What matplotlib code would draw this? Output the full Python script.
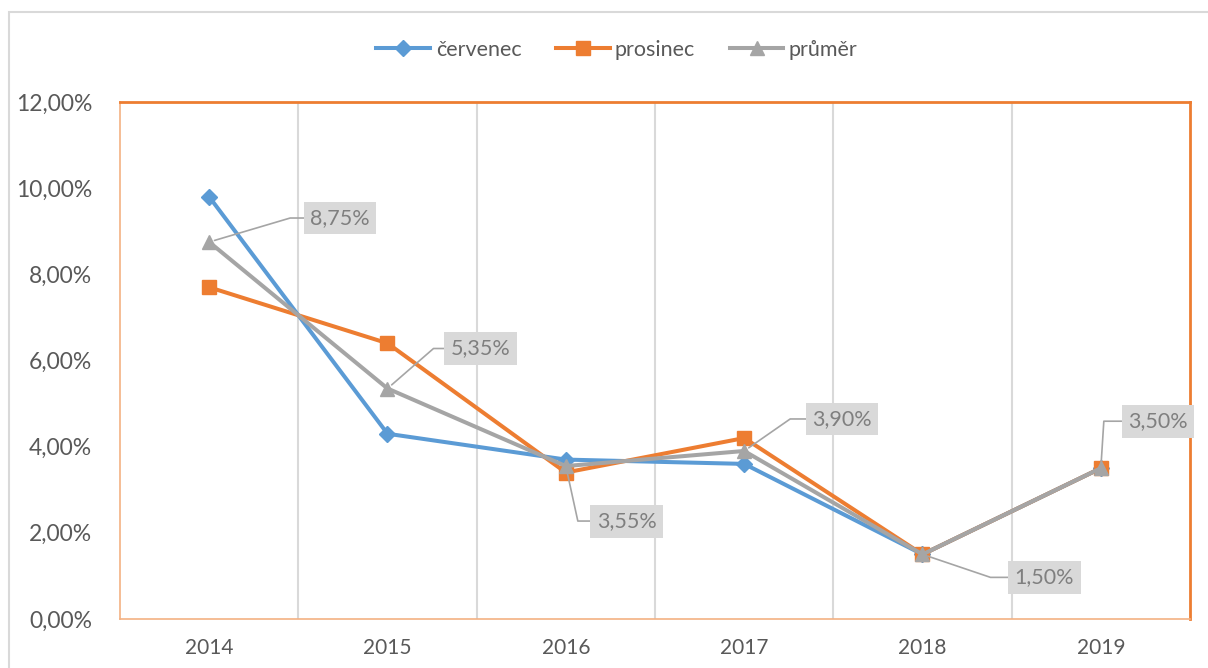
import math
import numpy as np
import matplotlib
matplotlib.use("Agg")
import matplotlib.pyplot as plt
from matplotlib.patches import Rectangle

# data (percent)
years = ["2014", "2015", "2016", "2017", "2018", "2019"]
cervenec = [9.8, 4.3, 3.7, 3.6, 1.5, 3.5]
prosinec = [7.7, 6.4, 3.4, 4.2, 1.5, 3.5]
prumer = [8.75, 5.35, 3.55, 3.9, 1.5, 3.5]
y_ticks = [0, 2, 4, 6, 8, 10, 12]

# label box offsets (pixels from point) and leader elbow offsets
label_off = [(131, 24), (93, 40), (61, -55), (98, 32), (122, -23), (57, 47)]
elbow_off = [(81, 24), (46, 40), (12, -55), (46, 32), (68, -23), (3, 47)]

plt.rcParams['font.family'] = ['Lato', 'DejaVu Sans']

fig = plt.figure(figsize=(12.08, 6.68), dpi=100)
# outer chart frame
fig.patches.append(Rectangle((9 / 1208, -0.05), 1.2, (668 - 12) / 668 + 0.05,
                             transform=fig.transFigure, fill=False,
                             edgecolor='#D9D9D9', linewidth=1.5))

ax = fig.add_axes([120 / 1208, 49 / 668, 1070 / 1208, 517 / 668])
x = np.arange(len(years))

ax.plot(x, cervenec, color='#5B9BD5', lw=2.9, marker='D', markersize=8.5, label='červenec', zorder=3)
ax.plot(x, prosinec, color='#ED7D31', lw=2.9, marker='s', markersize=10, label='prosinec', zorder=4)
ax.plot(x, prumer, color='#A5A5A5', lw=2.9, marker='^', markersize=10, label='průměr', zorder=5)

ax.set_xlim(-0.5, len(years) - 0.5)
ax.set_ylim(0, 12)
ax.set_xticks(x)
ax.set_xticklabels(years)
ax.set_xticks(np.arange(0.5, len(years) - 0.5, 1), minor=True)
ax.set_yticks(y_ticks)
ax.set_yticklabels([f"{v:.2f}".replace('.', ',') + "%" for v in y_ticks])
ax.grid(which='minor', axis='x', color='#D9D9D9', lw=1.5)
ax.tick_params(which='both', length=0)
ax.tick_params(axis='y', labelsize=16.5, labelcolor='#595959', pad=20)
ax.tick_params(axis='x', labelsize=15, labelcolor='#595959', pad=14)

for side in ['top', 'right']:
    ax.spines[side].set_color('#ED7D31')
    ax.spines[side].set_linewidth(2)
for side in ['left', 'bottom']:
    ax.spines[side].set_color('#F4B183')
    ax.spines[side].set_linewidth(1.2)

# data labels for the average line
for i, v in enumerate(prumer):
    dx, dy = label_off[i]
    ex, ey = elbow_off[i]
    ang = math.degrees(math.atan2(ey, ex))
    ax.annotate(f"{v:.2f}".replace('.', ',') + "%", xy=(i, v), xytext=(dx, dy),
                textcoords='offset pixels', ha='center', va='center',
                fontsize=15.5, color='#7F7F7F', zorder=6,
                bbox=dict(boxstyle='square,pad=0.3', fc='#D9D9D9', ec='none'),
                arrowprops=dict(arrowstyle='-', color='#A5A5A5', lw=1.2,
                                shrinkA=0, shrinkB=4,
                                connectionstyle=f"angle,angleA=0,angleB={ang},rad=0"))

leg = ax.legend(loc='center', bbox_to_anchor=(617 / 1208, (668 - 50) / 668),
                bbox_transform=fig.transFigure, ncol=3, frameon=False,
                fontsize=15.5, handlelength=2.5, columnspacing=1.6, handletextpad=0.25)
for t in leg.get_texts():
    t.set_color('#595959')

fig.savefig('out.png', dpi=100)
